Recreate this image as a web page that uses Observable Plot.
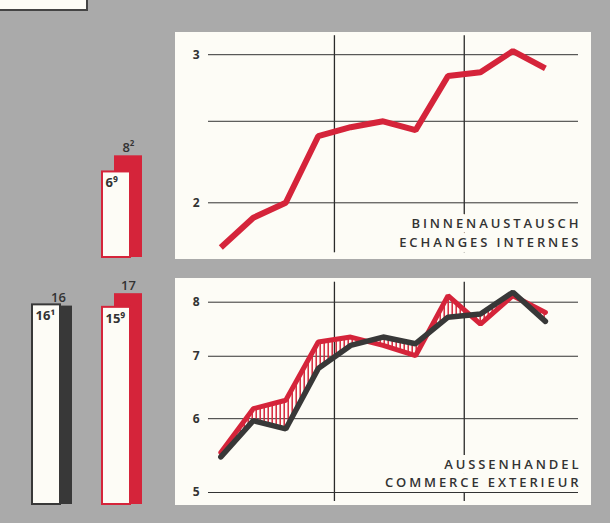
<!DOCTYPE html>
<html><head><meta charset="utf-8">
<script src="https://cdn.jsdelivr.net/npm/d3@7"></script>
<script src="https://cdn.jsdelivr.net/npm/@observablehq/plot@0.6"></script>
<style>
body{margin:0;background:#aaaaaa;}
#root{position:relative;width:610px;height:523px;background:#aaaaaa;overflow:hidden;font-family:"Open Sans",sans-serif;}
.abs{position:absolute;}
.abs svg{display:block;}
.ptitle text{letter-spacing:2.9px;}
</style></head><body><div id="root">
<div class="abs" style="left:0;top:0;width:86px;height:9px;background:#fdfcf6;border-right:2px solid #444;border-bottom:2px solid #444;"></div>
<div id="barsTop" class="abs" style="left:0;top:130px;"></div>
<div id="barsBottom" class="abs" style="left:0;top:270px;"></div>
<div id="topChart" class="abs" style="left:175px;top:32px;"></div>
<div id="bottomChart" class="abs" style="left:175px;top:278px;"></div>
</div>
<script>
// ---- data ----
const yearIndex = [0,0,0,0,1,1,1,1,2,2,2];
const quarter   = [1,2,3,4,1,2,3,4,1,2,3];
const yearBreaks = [1,2];
const internalTrade = [1.77,1.92,2.00,2.40,2.46,2.50,2.44,2.83,2.86,3.03,2.89];
const externalRed   = [5.52,6.15,6.28,7.25,7.34,7.19,7.01,8.13,7.58,8.13,7.80];
const externalBlack = [5.46,5.97,5.85,6.79,7.19,7.34,7.22,7.71,7.77,8.20,7.63];
const topTicks = [2,3];
const topGrid = [2,2.5,3];
const bottomTicks = [5,6,7,8];
const topTitle = ["BINNENAUSTAUSCH","ECHANGES INTERNES"];
const bottomTitle = ["AUSSENHANDEL","COMMERCE EXTERIEUR"];

const barGroups = ["black","red"];
const barColors = ["#383838","#d5243a"];
const backValues = [16, 17];
const backLabels = ["16","17"];
const frontValues = [16.1, 15.9];
const frontLabels = ["16¹","15⁹"];
const topBackValue = [8.2], topBackLabel = ["8²"];
const topFrontValue = [6.9], topFrontLabel = ["6⁹"];

const RED = "#d5243a", BLACK = "#383838", PAPER = "#fdfcf6", INK = "#333";
const FONT = "'Open Sans', sans-serif";

const series = yearIndex.map((y,i)=>({t: y + (quarter[i]-0.5)/4, inner: internalTrade[i], red: externalRed[i], black: externalBlack[i]}));

const W = 416, H = 227, xDomain = [0.03, 2.88];

function addHatch(svg){
  const ns = "http://www.w3.org/2000/svg";
  const defs = document.createElementNS(ns,"defs");
  defs.innerHTML = `<pattern id="hatch" patternUnits="userSpaceOnUse" width="4" height="10"><line x1="1.2" y1="0" x2="1.2" y2="10" stroke="${RED}" stroke-width="1.5"/></pattern>`;
  svg.insertBefore(defs, svg.firstChild);
}

function tickLabels(ticks){
  return Plot.text(ticks, {y: d => d, text: d => String(d), frameAnchor: "left", textAnchor: "end", dx: -9, fontSize: 12, fontWeight: 700, fill: INK});
}

const titleStyle = {fontSize: 13, fontWeight: 600, fill: INK, stroke: PAPER, strokeWidth: 10, paintOrder: "stroke", className: "ptitle", frameAnchor: "bottom-right", lineAnchor: "bottom", dx: 2.9};

const topPlot = Plot.plot({
  width: W, height: H, marginLeft: 33, marginRight: 13, marginTop: 22.2, marginBottom: 56.7,
  x: {domain: xDomain, axis: null},
  y: {type: "log", domain: [2,3], axis: null},
  style: {background: PAPER, fontFamily: FONT, color: INK},
  marks: [
    Plot.ruleX(yearBreaks, {stroke: "#2a2a2a", strokeWidth: 1.3, insetTop: -19, insetBottom: -50}),
    Plot.text([topTitle.join("\n")], {...titleStyle, dy: 43.7, lineHeight: 1.44}),
    Plot.ruleY(topGrid, {stroke: INK, strokeWidth: 1}),
    tickLabels(topTicks),
    Plot.line(series, {x: "t", y: "inner", stroke: RED, strokeWidth: 6, strokeLinejoin: "miter", strokeLinecap: "butt"})
  ]
});
document.getElementById("topChart").appendChild(topPlot);

const bottomPlot = Plot.plot({
  width: W, height: H, marginLeft: 33, marginRight: 13, marginTop: 23.7, marginBottom: 13,
  x: {domain: xDomain, axis: null},
  y: {type: "log", domain: [5,8], axis: null},
  style: {background: PAPER, fontFamily: FONT, color: INK},
  marks: [
    Plot.ruleX(yearBreaks, {stroke: "#2a2a2a", strokeWidth: 1.3, insetTop: -20, insetBottom: -9}),
    Plot.text([bottomTitle.join("\n")], {...titleStyle, dy: -5.3, lineHeight: 1.42}),
    Plot.ruleY(bottomTicks, {stroke: INK, strokeWidth: 1}),
    tickLabels(bottomTicks),
    Plot.areaY(series, {x: "t", y1: "black", y2: "red", fill: "url(#hatch)"}),
    Plot.line(series, {x: "t", y: "red", stroke: RED, strokeWidth: 5, strokeLinejoin: "miter"}),
    Plot.line(series, {x: "t", y: "black", stroke: BLACK, strokeWidth: 5.5, strokeLinejoin: "miter"})
  ]
});
addHatch(bottomPlot);
document.getElementById("bottomChart").appendChild(bottomPlot);

// ---- bars ----
const PX_PER_UNIT = 12.4;
function barPlot(baseline, height, back, front){
  return Plot.plot({
    width: 170, height, marginLeft: 32, marginRight: 40, marginTop: 0, marginBottom: 0,
    x: {domain: barGroups, paddingInner: 0.6, paddingOuter: 0, axis: null},
    y: {domain: [0, 17], range: [baseline, baseline - 17 * PX_PER_UNIT], axis: null},
    style: {background: "transparent", fontFamily: FONT, color: INK},
    marks: [
      Plot.barY(back, {x: "g", y: "v", fill: "c", dx: 12}),
      Plot.barY(front, {x: "g", y: "v", fill: PAPER, stroke: "c", strokeWidth: 2}),
      Plot.text(back, {x: "g", y: "v", text: "label", dx: 12, dy: -4, lineAnchor: "bottom", fontSize: 13, fontWeight: 600, fill: INK}),
      Plot.text(front, {x: "g", y: "v", text: "label", textAnchor: "start", dx: -11, dy: 6, lineAnchor: "top", fontSize: 13, fontWeight: 700, fill: INK})
    ]
  });
}
const backAll = barGroups.map((g,i)=>({g, v: backValues[i], label: backLabels[i], c: barColors[i]}));
const frontAll = barGroups.map((g,i)=>({g, v: frontValues[i], label: frontLabels[i], c: barColors[i]}));
document.getElementById("barsBottom").appendChild(barPlot(234, 253, backAll, frontAll));
const backTop = [{g: "red", v: topBackValue[0], label: topBackLabel[0], c: RED}];
const frontTop = [{g: "red", v: topFrontValue[0], label: topFrontLabel[0], c: RED}];
document.getElementById("barsTop").appendChild(barPlot(127, 140, backTop, frontTop));
</script>
</body></html>
